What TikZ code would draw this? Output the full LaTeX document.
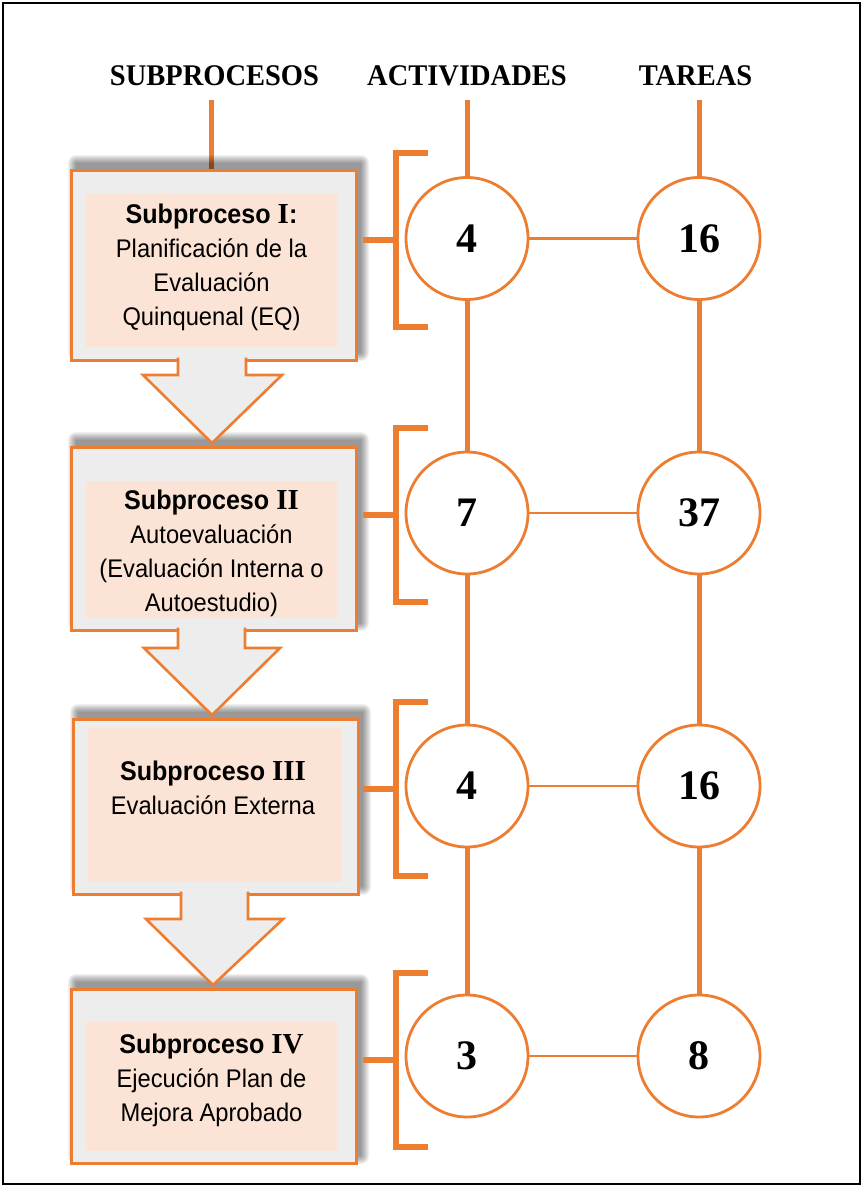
\documentclass[tikz,border=0pt]{standalone}
\usepackage{fontspec}
\setmainfont{Liberation Serif}
\newfontfamily\arialf{Liberation Sans}[FakeStretch=0.93]
\newfontfamily\hdrfont{Liberation Serif}[FakeStretch=0.95]
\usetikzlibrary{calc}
\definecolor{orng}{HTML}{ED7D31}
\definecolor{boxgrey}{HTML}{EDEDED}
\definecolor{peach}{HTML}{FBE4D5}
\pgfdeclarelayer{bg}
\pgfsetlayers{bg,main}
\newcommand\softshade[4]{\foreach \k in {0,...,8}{\fill[black,opacity=0.055,rounded corners=\k pt] (#1+6-\k,#2-6-\k) rectangle (#3+6+\k,#4-6+\k);}}
\newcommand\calloutarrow[8]{%
  \fill[boxgrey] (#1,#3-1.5) -- (#1,#4) -- (#5,#4) -- (#7,#8) -- (#6,#4) -- (#2,#4) -- (#2,#3-1.5) -- cycle;
  \draw[arrowline] (#1,#3-1.5) -- (#1,#4) -- (#5,#4) -- (#7,#8) -- (#6,#4) -- (#2,#4) -- (#2,#3-1.5);}
\begin{document}
\begin{tikzpicture}[x=1pt,y=-1pt,
  hdr/.style={font=\hdrfont\fontsize{30}{34}\selectfont\bfseries, anchor=base, inner sep=0},
  num/.style={circle, draw=orng, line width=2.8pt, fill=white, minimum size=122pt, inner sep=0, font=\fontsize{42}{48}\selectfont\bfseries},
  subbox/.style={draw=orng, line width=2.8pt, fill=boxgrey, anchor=north west, inner sep=0},
  innerbox/.style={fill=peach, anchor=north west, inner sep=0},
  btxt/.style={font=\arialf\fontsize{25.5}{34}\selectfont, align=center, inner sep=0},
  colline/.style={draw=orng, line width=5pt},
  brk/.style={draw=orng, line width=6pt, line join=miter},
  link/.style={draw=orng, line width=2.6pt},
  arrowline/.style={draw=orng, line width=2.6pt, line join=miter},
]
\useasboundingbox (0,0) rectangle (864,1187);
\draw[black, line width=2.5pt] (3,3) rectangle (860,1184);

% headers
\node[hdr] (hs) at (214.5,85) {SUBPROCESOS};
\node[hdr] (ha) at (467,85) {ACTIVIDADES};
\node[hdr] (ht) at (695.5,85) {TAREAS};
\coordinate (cS) at (211,100);
\coordinate (cA) at (467,100);
\coordinate (cT) at (699,100);

% subprocess boxes with callout arrows
\node[subbox, minimum width=285pt, minimum height=190pt] (s1) at (70,169) {};
\node[innerbox, minimum width=251pt, minimum height=153pt] (i1) at (86,194) {};
\node[btxt] (x1) at (211.5,267.5) {{\fontsize{27}{34}\selectfont\bfseries Subproceso {\rmfamily\fontsize{29}{34}\selectfont I}:}\\Planificación de la\\Evaluación\\Quinquenal (EQ)};
\calloutarrow{178}{246}{359}{375}{143}{282}{212}{443}

\node[subbox, minimum width=285pt, minimum height=183pt] (s2) at (70,446) {};
\node[innerbox, minimum width=251pt, minimum height=137pt] (i2) at (86,481) {};
\node[btxt] (x2) at (211.5,553) {{\fontsize{27}{34}\selectfont\bfseries Subproceso {\rmfamily\fontsize{29}{34}\selectfont II}}\\Autoevaluación\\(Evaluación Interna o\\Autoestudio)};
\calloutarrow{178}{245}{629}{648}{144}{280}{212}{715}

\node[subbox, minimum width=285pt, minimum height=175pt] (s3) at (72,718) {};
\node[innerbox, minimum width=253pt, minimum height=154pt] (i3) at (88,728) {};
\node[btxt] (x3) at (213,788) {{\fontsize{27}{34}\selectfont\bfseries Subproceso {\rmfamily\fontsize{29}{34}\selectfont III}}\\Evaluación Externa};
\calloutarrow{181}{248}{893}{919}{146}{283}{213}{985}

\node[subbox, minimum width=285pt, minimum height=174pt] (s4) at (70,988) {};
\node[innerbox, minimum width=251pt, minimum height=129pt] (i4) at (86,1022) {};
\node[btxt] (x4) at (211.5,1080) {{\fontsize{27}{34}\selectfont\bfseries Subproceso {\rmfamily\fontsize{29}{34}\selectfont IV}}\\Ejecución Plan de\\Mejora Aprobado};

% circles
\node[num] (a1) at (467,238.5) {4};
\node[num] (a2) at (467,513) {7};
\node[num] (a3) at (467,786) {4};
\node[num] (a4) at (467,1056) {3};
\node[num] (t1) at (699,238.5) {16};
\node[num] (t2) at (699,513) {37};
\node[num] (t3) at (699,786) {16};
\node[num] (t4) at (699,1056) {8};

% column lines
\draw[colline] (cA) -- (a1);
\draw[colline] (a1) -- (a2);
\draw[colline] (a2) -- (a3);
\draw[colline] (a3) -- (a4);
\draw[colline] (cT) -- (t1);
\draw[colline] (t1) -- (t2);
\draw[colline] (t2) -- (t3);
\draw[colline] (t3) -- (t4);
\foreach \i in {1,2,3,4}{\draw[link] (a\i) -- (t\i);}

% brackets
\foreach \top/\bot in {153/327, 427.5/602, 702/876, 973/1147}{
  \draw[brk] (428,\top) -- (396,\top) -- (396,\bot) -- (428,\bot);
  \draw[brk] (363,{(\top+\bot)/2}) -- (396,{(\top+\bot)/2});
}

\begin{pgfonlayer}{bg}
  \draw[colline] (cS) -- (cS |- s1.north);
  \softshade{70}{169}{355}{359}
  \softshade{70}{446}{355}{629}
  \softshade{72}{718}{357}{893}
  \softshade{70}{988}{355}{1162}
\end{pgfonlayer}
\end{tikzpicture}
\end{document}
